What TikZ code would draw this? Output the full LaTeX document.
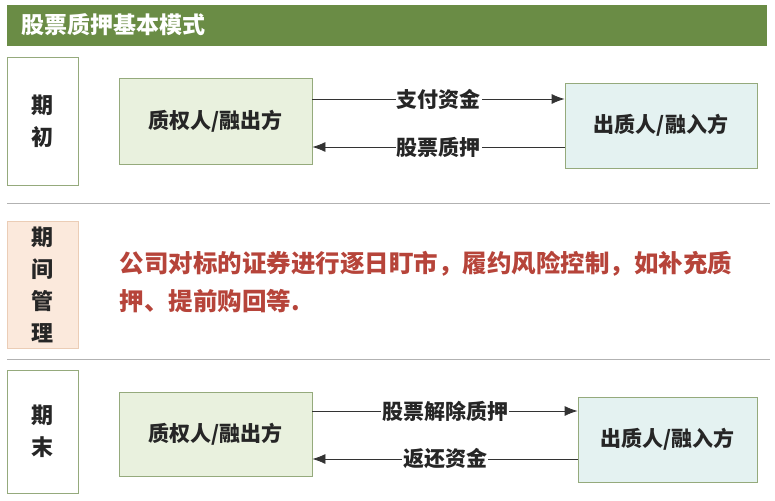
\documentclass[tikz,border=0pt]{standalone}
\usepackage{fontspec}
\newfontfamily\cjk{Noto Sans CJK SC}
\usetikzlibrary{arrows.meta}
\definecolor{titlegreen}{HTML}{6A8C45}
\definecolor{boxgreen}{HTML}{E9F1DE}
\definecolor{edgegreen}{HTML}{95AA7C}
\definecolor{boxcyan}{HTML}{E4F2F1}
\definecolor{boxpeach}{HTML}{FBE9DC}
\definecolor{edgepeach}{HTML}{EBCDB6}
\definecolor{textred}{HTML}{B6443A}
\tikzset{
  phasebox/.style={draw=edgegreen,thick,fill=white,font=\cjk\bfseries\fontsize{22}{32}\selectfont,align=center,text=black!85},
  partybox/.style={draw=edgegreen,thick,font=\cjk\bfseries\fontsize{21}{24}\selectfont,text=black!85},
  flow/.style={-{Latex[length=13pt,width=10pt]},thick,black!80},
  flowlabel/.style={fill=white,inner sep=1pt,font=\cjk\bfseries\fontsize{21}{24}\selectfont,text=black!85}
}
\begin{document}
\begin{tikzpicture}[x=1pt,y=-1pt]
\useasboundingbox (0,0) rectangle (775,500);

%title bar
\fill[titlegreen] (7,5) rectangle (767,46);
\node[anchor=west,text=white,font=\cjk\bfseries\fontsize{23}{26}\selectfont] (title) at (18,25) {股票质押基本模式};

%dividers
\draw[gray!60,thick] (7,203) -- (770,203);
\draw[gray!60,thick] (7,359) -- (770,359);

%first phase
\node[phasebox] (start) at (42.5,121) [minimum width=71pt,minimum height=128pt] {期\\初};
\node[partybox,fill=boxgreen,minimum width=193pt,minimum height=86pt] (lenderA) at (215.5,121) {质权人/融出方};
\node[partybox,fill=boxcyan,minimum width=192pt,minimum height=85pt] (pledgorA) at (661,125.5) {出质人/融入方};
\draw[flow] (lenderA.east |- 0,99) -- node[flowlabel] {支付资金} (pledgorA.west |- 0,99);
\draw[flow] (pledgorA.west |- 0,147) -- node[flowlabel] {股票质押} (lenderA.east |- 0,147);

%middle phase
\node[phasebox,draw=edgepeach,fill=boxpeach] (middle) at (42.5,284.5) [minimum width=71pt,minimum height=127pt] {期\\间\\管\\理};
\node[anchor=north west,text=textred,font=\cjk\bfseries\fontsize{24.5}{38}\selectfont,align=left] (note) at (116,248)
  {公司对标的证券进行逐日盯市，履约风险控制，如补充质\\押、提前购回等.};

%final phase
\node[phasebox] (finish) at (42.5,431.5) [minimum width=71pt,minimum height=123pt] {期\\末};
\node[partybox,fill=boxgreen,minimum width=193pt,minimum height=84pt] (lenderB) at (215.5,434) {质权人/融出方};
\node[partybox,fill=boxcyan,minimum width=179pt,minimum height=85pt] (pledgorB) at (667.5,439.5) {出质人/融入方};
\draw[flow] (lenderB.east |- 0,411) -- node[flowlabel] {股票解除质押} (pledgorB.west |- 0,411);
\draw[flow] (pledgorB.west |- 0,459) -- node[flowlabel] {返还资金} (lenderB.east |- 0,459);
\end{tikzpicture}
\end{document}
